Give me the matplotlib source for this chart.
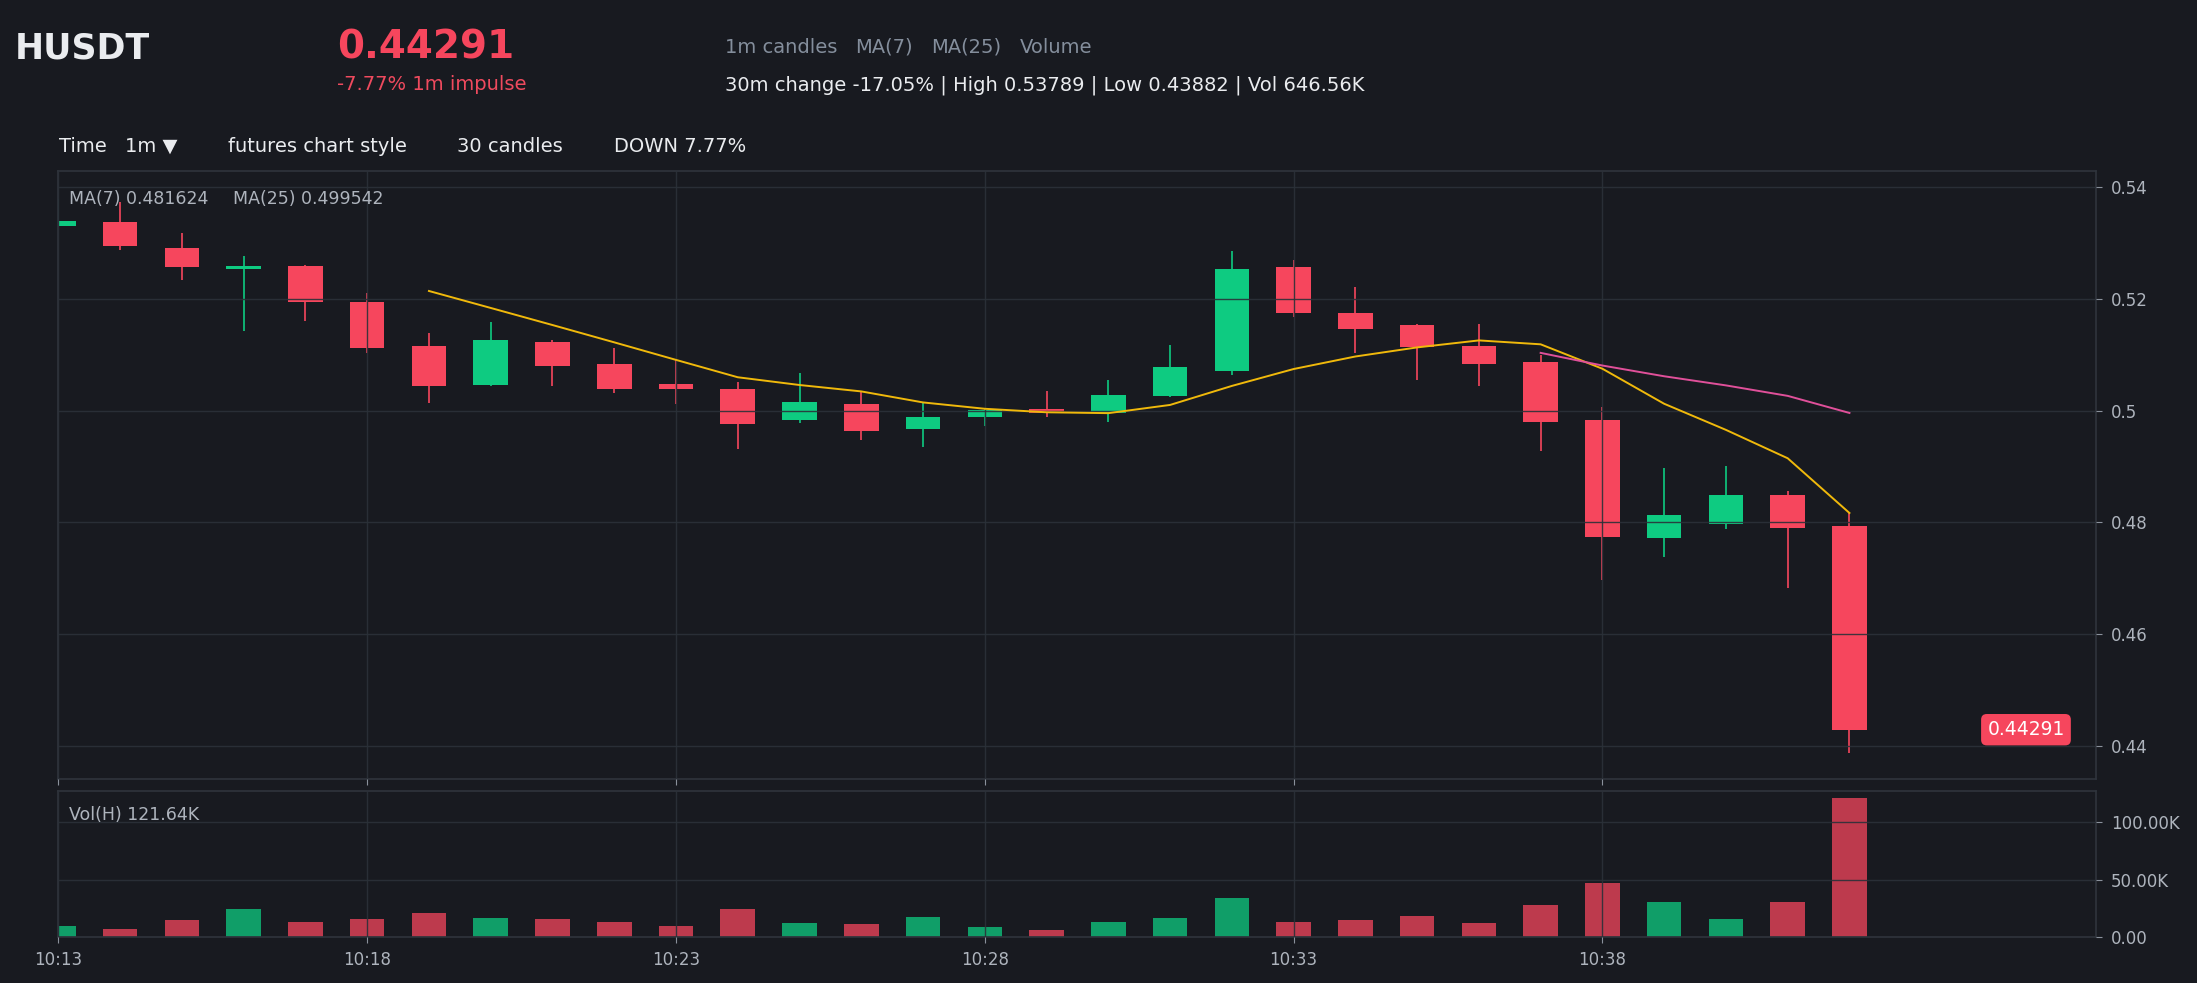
import numpy as np
import pandas as pd
import matplotlib
matplotlib.use('Agg')
import matplotlib.pyplot as plt
from matplotlib.ticker import FuncFormatter
from matplotlib.transforms import blended_transform_factory

plt.rcParams['font.family'] = ['DejaVu Sans']

BG = '#181a20'
UP = '#0ecb81'
DOWN = '#f6465d'
GRID = '#2b3139'
TXT = '#eaecef'
GRAY = '#848e9c'
LIGHT = '#aeb4bd'

# 1m candles, 10:13 .. 10:42
opens = [0.53310, 0.53365, 0.52912, 0.52533, 0.52591, 0.51949, 0.51161, 0.50453, 0.51219, 0.50839,
         0.50467, 0.50394, 0.49832, 0.50124, 0.49672, 0.49891, 0.50036, 0.49956, 0.50255, 0.50708,
         0.52577, 0.51752, 0.51540, 0.51161, 0.50876, 0.49839, 0.47715, 0.47971, 0.48485, 0.47927]
highs = [0.53789, 0.53723, 0.53182, 0.52774, 0.52600, 0.52095, 0.51380, 0.51577, 0.51255, 0.51124,
         0.50920, 0.50518, 0.50664, 0.50328, 0.50131, 0.50036, 0.50358, 0.50540, 0.51182, 0.52847,
         0.52701, 0.52219, 0.51545, 0.51555, 0.51000, 0.50073, 0.48978, 0.49015, 0.48555, 0.48168]
lows = [0.53290, 0.52869, 0.52343, 0.51423, 0.51599, 0.51029, 0.50131, 0.50440, 0.50438, 0.50307,
        0.50109, 0.49307, 0.49774, 0.49474, 0.49343, 0.49723, 0.49883, 0.49796, 0.50250, 0.50635,
        0.51672, 0.51036, 0.50540, 0.50431, 0.49277, 0.46974, 0.47380, 0.47883, 0.46818, 0.43882]
closes = [0.53395, 0.52942, 0.52562, 0.52591, 0.51934, 0.51117, 0.50438, 0.51270, 0.50803, 0.50394,
          0.50394, 0.49759, 0.50146, 0.49635, 0.49891, 0.50007, 0.49956, 0.50285, 0.50788, 0.52526,
          0.51752, 0.51460, 0.51146, 0.50832, 0.49796, 0.47730, 0.48139, 0.48482, 0.47905, 0.44291]
volumes_k = [9.3, 6.7, 14.6, 24.2, 12.8, 15.7, 20.7, 16.3, 15.7, 12.8,
             9.3, 24.2, 11.9, 11.1, 17.2, 8.5, 5.8, 12.8, 16.3, 33.8,
             12.8, 14.6, 18.1, 11.9, 27.7, 46.9, 30.3, 15.4, 30.3, 121.64]
tick_pos = [0, 5, 10, 15, 20, 25]
tick_labels = ['10:13', '10:18', '10:23', '10:28', '10:33', '10:38']

W, H = 2197, 983
fig = plt.figure(figsize=(W / 100, H / 100), dpi=100, facecolor=BG)


def ftext(x, y, s, **kw):
    # place text by pixel position (from top-left)
    return fig.text(x / W, 1 - y / H, s, **kw)


ax = fig.add_axes([0.02658, 0.20702, 0.92767, 0.61923])
axv = fig.add_axes([0.02658, 0.04710, 0.92767, 0.14863], sharex=ax)

x = np.arange(len(closes))
o = np.array(opens)
c = np.array(closes)
up = c >= o
cols = np.where(up, UP, DOWN)

# candles
ax.vlines(x, lows, highs, colors=cols, linewidth=1.2, zorder=1)
ax.bar(x, np.abs(c - o), bottom=np.minimum(o, c), width=0.56, color=cols, zorder=1.5)

ma7 = pd.Series(closes).rolling(7).mean()
ma25 = pd.Series(closes).rolling(25).mean()
ax.plot(x, ma7, color='#f0b90b', linewidth=1.4, zorder=3)
ax.plot(x, ma25, color='#e0509a', linewidth=1.4, zorder=3)

# volume
axv.bar(x, volumes_k, width=0.56, color=cols, alpha=0.75, zorder=1)

for a in (ax, axv):
    a.set_facecolor(BG)
    a.set_axisbelow(False)
    a.grid(True, color=GRID, linewidth=1.0, alpha=0.9)
    for sp in a.spines.values():
        sp.set_color('#2f343c')
        sp.set_linewidth(1.2)
    a.yaxis.tick_right()
    a.tick_params(axis='y', colors='#8a919c', labelcolor=LIGHT, labelsize=12, length=4, pad=6.5)
    a.tick_params(axis='x', colors='#8a919c', labelcolor=LIGHT, labelsize=12, length=4, pad=6)

ax.set_xlim(0, 33)
ax.set_xticks(tick_pos)
ax.tick_params(axis='x', labelbottom=False)
axv.set_xticklabels(tick_labels)

ax.set_ylim(0.4340, 0.5429)
ax.set_yticks([0.44, 0.46, 0.48, 0.50, 0.52, 0.54])
ax.yaxis.set_major_formatter(FuncFormatter(lambda v, p: '{:g}'.format(round(v, 4))))

axv.set_ylim(0, max(volumes_k) * 1.05)
axv.set_yticks([0, 50, 100])
axv.yaxis.set_major_formatter(FuncFormatter(lambda v, p: '{:.2f}K'.format(v) if v else '0.00'))

# last price tag
tr = blended_transform_factory(ax.transAxes, ax.transData)
ax.text(0.9654, closes[-1], '{:.5f}'.format(closes[-1]), transform=tr, ha='center', va='center',
        color='white', fontsize=13.5, zorder=5,
        bbox=dict(boxstyle='round,pad=0.33,rounding_size=0.3', fc=DOWN, ec='none'))

# in-panel labels
ftext(69, 204, 'MA(7) 0.481624', color=LIGHT, fontsize=12.5, va='baseline')
ftext(233, 204, 'MA(25) 0.499542', color=LIGHT, fontsize=12.5, va='baseline')
ftext(69, 820, 'Vol(H) 121.64K', color=LIGHT, fontsize=12.5, va='baseline')

# header
ftext(15, 58.3, 'HUSDT', color=TXT, fontsize=25, fontweight='bold', va='baseline')
ftext(337, 58.3, '0.44291', color=DOWN, fontsize=28, fontweight='bold', va='baseline')
ftext(337, 89.5, '-7.77% 1m impulse', color='#ef4a5e', fontsize=14, va='baseline')
for xp, s in [(725, '1m candles'), (855, 'MA(7)'), (931, 'MA(25)'), (1020, 'Volume')]:
    ftext(xp, 52.7, s, color=GRAY, fontsize=14, va='baseline')
ftext(725, 90.5, '30m change -17.05% | High 0.53789 | Low 0.43882 | Vol 646.56K',
      color=TXT, fontsize=14, va='baseline')
for xp, s in [(59, 'Time'), (125, '1m \u25bc'), (228, 'futures chart style'),
              (457, '30 candles'), (614, 'DOWN 7.77%')]:
    ftext(xp, 151.5, s, color=TXT, fontsize=14, va='baseline')

fig.savefig('out.png', dpi=100, facecolor=BG)
